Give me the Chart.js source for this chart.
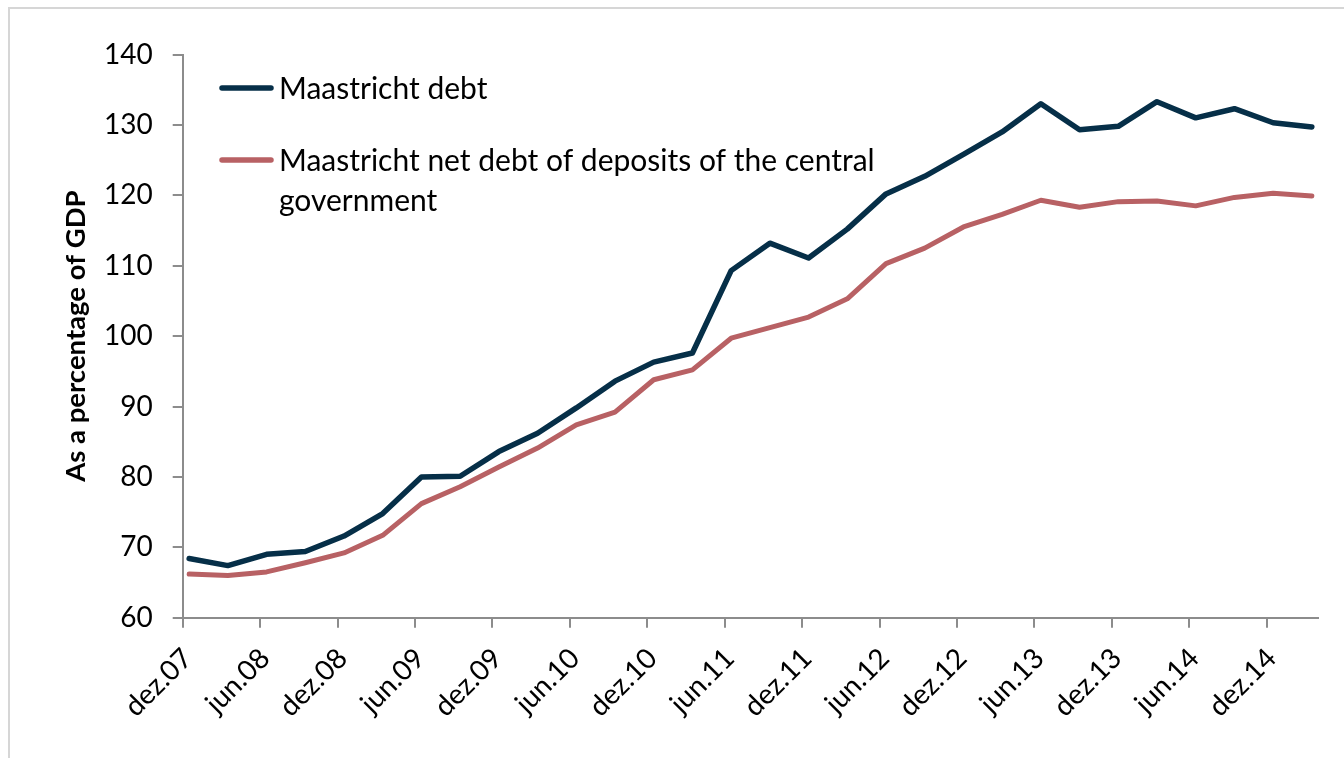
<!DOCTYPE html>
<html>
<head>
<meta charset="utf-8">
<script src="https://cdn.jsdelivr.net/npm/chart.js@4.4.1/dist/chart.umd.min.js"></script>
<style>
  html, body { margin: 0; padding: 0; background: #ffffff; }
  body { width: 1344px; height: 758px; overflow: hidden; position: relative; }
  #frame { position: absolute; left: 8px; top: 7px; width: 1400px; height: 800px;
           border-left: 2px solid #D6D6D6; border-top: 2px solid #D6D6D6; }
  #c { position: absolute; left: 0; top: 0; }
</style>
</head>
<body>
<div id="frame"></div>
<canvas id="c" width="1344" height="758"></canvas>
<script>
// Quarterly observations (end of quarter)
const quarters = ['dez.07','mar.08','jun.08','set.08','dez.08','mar.09','jun.09','set.09','dez.09','mar.10',
                  'jun.10','set.10','dez.10','mar.11','jun.11','set.11','dez.11','mar.12','jun.12','set.12',
                  'dez.12','mar.13','jun.13','set.13','dez.13','mar.14','jun.14','set.14','dez.14','mar.15'];

const maastrichtDebt = [68.4, 67.4, 69.0, 69.4, 71.6, 74.8, 80.0, 80.1, 83.6, 86.2,
                        89.8, 93.6, 96.3, 97.6, 109.3, 113.2, 111.1, 115.2, 120.2, 122.7,
                        125.8, 129.0, 133.0, 129.3, 129.8, 133.3, 131.0, 132.3, 130.3, 129.7];

const netDebt = [66.2, 66.0, 66.5, 67.8, 69.2, 71.7, 76.2, 78.6, 81.4, 84.1,
                 87.4, 89.2, 93.8, 95.2, 99.7, 101.2, 102.7, 105.3, 110.3, 112.5,
                 115.5, 117.3, 119.3, 118.3, 119.1, 119.2, 118.5, 119.7, 120.3, 119.9];

const seriesLabels = ['Maastricht debt', 'Maastricht net debt of deposits of the central government'];
const seriesColors = ['#062F48', '#B86164'];

// Tick labels every six months (monthly date axis, Dec 2007 .. Mar 2015)
const tickLabels = ['dez.07','jun.08','dez.08','jun.09','dez.09','jun.10','dez.10','jun.11',
                    'dez.11','jun.12','dez.12','jun.13','dez.13','jun.14','dez.14'];
const monthsOnAxis = 88;
const yTitle = 'As a percentage of GDP';

// month-slot index of each quarter (centered in its month)
const toPoints = (vals) => vals.map((v, i) => ({ x: i * 3 + 0.5, y: v }));

const FONT = 'Lato, "Open Sans", sans-serif';

const excelLegend = {
  id: 'excelLegend',
  afterDraw(chart) {
    const ctx = chart.ctx;
    ctx.save();
    ctx.font = '30px ' + FONT;
    ctx.textBaseline = 'middle';
    ctx.textAlign = 'left';
    let y = 88;
    chart.data.datasets.forEach((ds) => {
      ctx.strokeStyle = ds.borderColor;
      ctx.lineWidth = 5.5;
      ctx.lineCap = 'round';
      ctx.beginPath();
      ctx.moveTo(222, y);
      ctx.lineTo(271, y);
      ctx.stroke();
      // wrap text
      const words = ds.label.split(' ');
      const lines = [];
      let cur = '';
      words.forEach(w => {
        const t = cur ? cur + ' ' + w : w;
        if (ctx.measureText(t).width > 660 && cur) { lines.push(cur); cur = w; }
        else cur = t;
      });
      lines.push(cur);
      ctx.fillStyle = '#000000';
      lines.forEach((ln, i) => ctx.fillText(ln, 279, y + 1 + i * 40));
      y += 72;
    });
    ctx.restore();
  }
};

new Chart(document.getElementById('c'), {
  type: 'line',
  data: {
    datasets: [
      { label: seriesLabels[0], data: toPoints(maastrichtDebt), borderColor: seriesColors[0],
        borderWidth: 5.5, pointRadius: 0, tension: 0, borderJoinStyle: 'round', borderCapStyle: 'round', fill: false },
      { label: seriesLabels[1], data: toPoints(netDebt), borderColor: seriesColors[1],
        borderWidth: 5, pointRadius: 0, tension: 0, borderJoinStyle: 'round', borderCapStyle: 'round', fill: false }
    ]
  },
  options: {
    responsive: false,
    devicePixelRatio: 1,
    animation: false,
    events: [],
    layout: { padding: { top: 54.5, right: 25.7, left: 0, bottom: 0 } },
    plugins: { legend: { display: false }, tooltip: { enabled: false } },
    scales: {
      x: {
        type: 'linear',
        position: 'bottom',
        min: 0,
        max: monthsOnAxis,
        afterFit: (s) => { s.height = 140.3; },
        border: { display: true, color: '#8C8C8C', width: 2 },
        grid: { display: true, drawOnChartArea: false, drawTicks: true, tickLength: 10, color: '#8C8C8C', lineWidth: 2 },
        ticks: {
          stepSize: 6,
          includeBounds: false,
          autoSkip: false,
          minRotation: 45,
          maxRotation: 45,
          padding: 14,
          labelOffset: 5,
          color: '#000000',
          font: { family: FONT, size: 28 },
          callback: (v) => tickLabels[Math.round(v / 6)] ?? ''
        }
      },
      y: {
        min: 60,
        max: 140,
        afterFit: (s) => { s.width = 182.7; },
        border: { display: true, color: '#8C8C8C', width: 2 },
        grid: { display: true, drawOnChartArea: false, drawTicks: true, tickLength: 10, color: '#8C8C8C', lineWidth: 2 },
        ticks: {
          stepSize: 10,
          padding: 20,
          color: '#000000',
          font: { family: FONT, size: 28 }
        },
        title: {
          display: true,
          text: yTitle,
          color: '#000000',
          font: { family: FONT, size: 27.5, weight: 'bold' },
          padding: 60
        }
      }
    }
  },
  plugins: [excelLegend]
});
</script>
</body>
</html>
